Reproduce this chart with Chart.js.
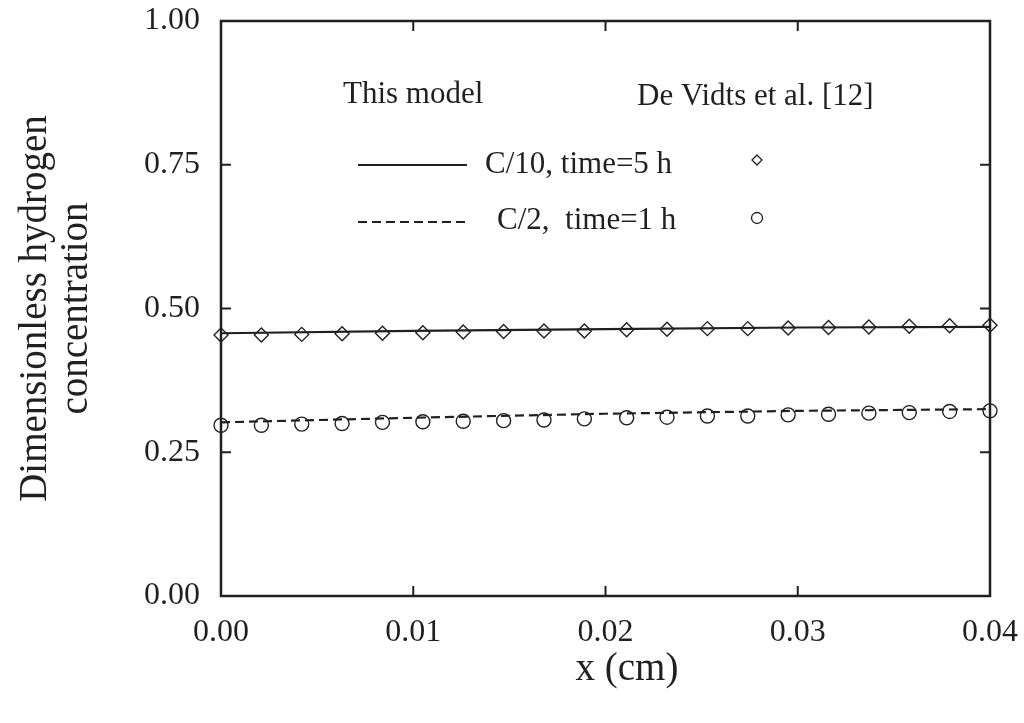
<!DOCTYPE html>
<html>
<head>
<meta charset="utf-8">
<script src="https://cdn.jsdelivr.net/npm/chart.js@4/dist/chart.umd.min.js"></script>
<style>
  html, body { margin: 0; padding: 0; background: #fff; }
  #wrap { width: 1024px; height: 723px; }
</style>
</head>
<body>
<div id="wrap"><canvas id="profile"></canvas></div>
<script>
// model curves (lines)
let xModel = [0, 0.01, 0.02, 0.03, 0.04];
let modelC10 = [0.457, 0.461, 0.464, 0.467, 0.468];
let modelC2 = [0.302, 0.310, 0.317, 0.322, 0.325];

// De Vidts et al. points (markers)
let xRef = [0, 0.0021, 0.0042, 0.0063, 0.0084, 0.0105, 0.0126, 0.0147, 0.0168, 0.0189,
  0.0211, 0.0232, 0.0253, 0.0274, 0.0295, 0.0316, 0.0337, 0.0358, 0.0379, 0.04];
let refC10 = [0.454, 0.454, 0.455, 0.456, 0.457, 0.458, 0.459, 0.460, 0.461, 0.461,
  0.463, 0.464, 0.465, 0.465, 0.466, 0.467, 0.468, 0.469, 0.470, 0.471];
let refC2 = [0.297, 0.297, 0.299, 0.300, 0.302, 0.303, 0.304, 0.305, 0.306, 0.308,
  0.310, 0.311, 0.313, 0.313, 0.315, 0.316, 0.318, 0.319, 0.321, 0.322];

let xTicks = [0, 0.01, 0.02, 0.03, 0.04];
let yTicks = [0, 0.25, 0.5, 0.75, 1];

let legendRows = ["C/10, time=5 h", "C/2,  time=1 h"];

const serif = "'Liberation Serif', 'Times New Roman', serif";
const ink = "#231f20";

function pairs(xs, ys) {
  return xs.map((x, i) => ({ x: x, y: ys[i] }));
}

// box around the plot with short inward ticks on every side
const frame = {
  id: "frame",
  beforeDatasetsDraw(chart) {
    const { ctx, chartArea: a, scales } = chart;
    ctx.save();
    ctx.strokeStyle = ink;
    ctx.lineWidth = 2.5;
    ctx.strokeRect(a.left, a.top, a.right - a.left, a.bottom - a.top);
    ctx.lineWidth = 2;
    ctx.beginPath();
    xTicks.slice(1, -1).forEach((v) => {
      let px = scales.x.getPixelForValue(v);
      ctx.moveTo(px, a.bottom); ctx.lineTo(px, a.bottom - 10);
      ctx.moveTo(px, a.top); ctx.lineTo(px, a.top + 10);
    });
    yTicks.slice(1, -1).forEach((v) => {
      let py = scales.y.getPixelForValue(v);
      ctx.moveTo(a.left, py); ctx.lineTo(a.left + 10, py);
      ctx.moveTo(a.right, py); ctx.lineTo(a.right - 10, py);
    });
    ctx.stroke();
    ctx.restore();
  },
};

// two-column key inside the plot, plus the x axis title
const key = {
  id: "key",
  afterDraw(chart) {
    const ctx = chart.ctx;
    ctx.save();
    ctx.fillStyle = ink;
    ctx.strokeStyle = ink;
    ctx.font = "31px " + serif;
    ctx.textBaseline = "middle";
    ctx.textAlign = "left";
    ctx.fillText("This model", 343, 95);
    ctx.fillText("De Vidts et al. [12]", 637, 97);

    ctx.lineWidth = 2;
    ctx.beginPath();
    ctx.moveTo(358, 165); ctx.lineTo(467, 165);
    ctx.stroke();
    ctx.setLineDash([9, 5]);
    ctx.beginPath();
    ctx.moveTo(358, 222); ctx.lineTo(467, 222);
    ctx.stroke();
    ctx.setLineDash([]);

    ctx.fillText(legendRows[0], 485, 165);
    ctx.fillText(legendRows[1], 497, 221);

    ctx.lineWidth = 1.3;
    ctx.beginPath();
    ctx.moveTo(757, 155); ctx.lineTo(762, 160); ctx.lineTo(757, 165); ctx.lineTo(752, 160);
    ctx.closePath();
    ctx.stroke();
    ctx.beginPath();
    ctx.arc(757, 218, 5.5, 0, Math.PI * 2);
    ctx.stroke();

    ctx.font = "39px " + serif;
    ctx.textAlign = "center";
    ctx.fillText("x (cm)", 627, 670);
    ctx.restore();
  },
};

new Chart("profile", {
  type: "scatter",
  data: {
    datasets: [
      {
        data: pairs(xModel, modelC10),
        showLine: true,
        borderColor: ink,
        borderWidth: 2.2,
        pointRadius: 0,
        clip: false,
      },
      {
        data: pairs(xModel, modelC2),
        showLine: true,
        borderColor: ink,
        borderWidth: 2.2,
        borderDash: [9, 5],
        pointRadius: 0,
        clip: false,
      },
      {
        data: pairs(xRef, refC10),
        pointStyle: "rectRot",
        pointRadius: 7,
        pointBorderWidth: 1.4,
        pointBorderColor: ink,
        pointBackgroundColor: "rgba(0,0,0,0)",
        clip: false,
      },
      {
        data: pairs(xRef, refC2),
        pointStyle: "circle",
        pointRadius: 7,
        pointBorderWidth: 1.4,
        pointBorderColor: ink,
        pointBackgroundColor: "rgba(0,0,0,0)",
        clip: false,
      },
    ],
  },
  options: {
    responsive: true,
    maintainAspectRatio: false,
    animation: false,
    layout: { padding: { top: 21, right: 34, left: 0, bottom: 0 } },
    plugins: { legend: { display: false }, tooltip: { enabled: false } },
    scales: {
      x: {
        type: "linear",
        min: 0,
        max: 0.04,
        afterBuildTicks: (s) => { s.ticks = xTicks.map((v) => ({ value: v })); },
        afterFit: (s) => {
          s.height = 127;
          s.paddingLeft = 0;
          s.paddingRight = 0;
        },
        grid: { display: false, drawTicks: false },
        border: { display: false },
        ticks: {
          padding: 17,
          color: ink,
          font: { family: serif, size: 32 },
          callback: (v) => v.toFixed(2),
        },
      },
      y: {
        type: "linear",
        min: 0,
        max: 1,
        afterBuildTicks: (s) => { s.ticks = yTicks.map((v) => ({ value: v })); },
        afterFit: (s) => {
          s.width = 221;
          s.paddingTop = 0;
          s.paddingBottom = 0;
        },
        grid: { display: false, drawTicks: false },
        border: { display: false },
        ticks: {
          padding: 21,
          color: ink,
          font: { family: serif, size: 32 },
          callback: (v) => v.toFixed(2),
        },
        title: {
          display: true,
          text: ["Dimensionless hydrogen", "concentration"],
          color: ink,
          font: { family: serif, size: 39, lineHeight: 1.05 },
          padding: { top: 15 },
        },
      },
    },
  },
  plugins: [frame, key],
});
</script>
</body>
</html>
